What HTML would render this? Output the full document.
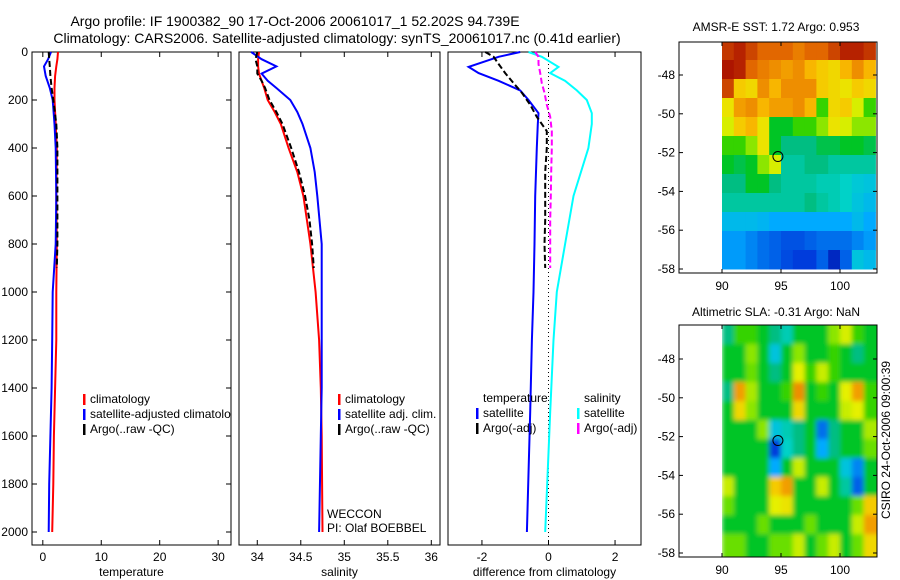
<!DOCTYPE html>
<html><head><meta charset="utf-8"><style>
body{margin:0;background:#fff;}
svg{display:block;font-family:"Liberation Sans",sans-serif;font-size:12px;}
</style></head><body>
<svg id="fig" width="900" height="580" viewBox="0 0 900 580">
<defs>
<clipPath id="clipP1"><rect x="32" y="52" width="199" height="493"/></clipPath>
<clipPath id="clipSla"><rect x="722" y="325" width="155" height="232"/></clipPath>
<filter id="blur" x="-5%" y="-5%" width="110%" height="110%"><feGaussianBlur stdDeviation="2.5"/></filter>
</defs>
<text x="295" y="26" text-anchor="middle" style="font-size:14px">Argo profile: IF 1900382_90 17-Oct-2006 20061017_1 52.202S 94.739E</text>
<text x="337" y="43" text-anchor="middle" style="font-size:14px">Climatology: CARS2006. Satellite-adjusted climatology: synTS_20061017.nc (0.41d earlier)</text>
<g id="maps"></g>
<g id="panels"></g>
<text transform="translate(890,440) rotate(-90)" text-anchor="middle">CSIRO 24-Oct-2006 09:00:39</text>
</svg>
<script>
// ---------- profile data ----------
const tDepth=[0,30,60,100,150,200,300,400,600,800,1000,1200,1400,1600,1800,2000];
const tClim=[2.6,2.5,2.3,2.1,2.0,2.0,2.2,2.4,2.3,2.4,2.3,2.3,2.1,1.9,1.8,1.6];
const tSat=[1.4,0.9,0.2,0.5,1.2,1.7,2.0,2.2,2.3,2.2,1.7,1.6,1.5,1.3,1.1,1.0];
const tArgoDepth=[0,30,60,100,150,200,300,400,500,600,700,800,900];
const tArgo=[1.0,1.1,1.2,1.3,1.5,1.8,2.3,2.5,2.5,2.5,2.5,2.5,2.4];
const sDepth=[0,30,60,90,120,150,200,250,300,400,500,600,800,1000,1200,1400,1600,2000];
const sClim=[34.02,34.01,34.01,34.02,34.05,34.08,34.12,34.2,34.27,34.36,34.46,34.53,34.61,34.67,34.71,34.73,34.74,34.75];
const sSat=[33.93,34.05,34.22,34.05,34.12,34.22,34.38,34.46,34.52,34.61,34.66,34.69,34.74,34.74,34.74,34.74,34.73,34.71];
const sArgoDepth=[0,30,60,90,120,150,200,250,300,400,500,600,700,800,900];
const sArgo=[34.0,33.98,34.0,34.0,34.05,34.09,34.14,34.22,34.29,34.39,34.48,34.55,34.6,34.63,34.65];
const dDepth=[0,20,62,88,120,160,200,255,300,400,600,800,1000,1200,1500,2000];
const dTempSat=[-0.85,-1.5,-2.4,-2.1,-1.5,-0.85,-0.6,-0.3,-0.32,-0.35,-0.4,-0.42,-0.45,-0.5,-0.55,-0.65];
const dSalSat=[-0.6,-0.2,0.3,0.05,0.5,0.85,1.15,1.3,1.3,1.2,0.75,0.5,0.25,0.15,0.05,-0.1];
const dArgoDepth=[0,20,50,88,130,170,220,270,330,400,500,600,700,800,900];
const dTempArgo=[-1.9,-1.65,-1.5,-1.3,-1.05,-0.8,-0.55,-0.35,-0.05,-0.05,-0.1,-0.1,-0.1,-0.12,-0.1];
const dSalArgo=[-0.4,-0.3,-0.3,-0.25,-0.2,-0.12,-0.05,0.05,0.1,0.1,0.08,0.07,0.05,0.05,0.05];
const depthTicks=[0,200,400,600,800,1000,1200,1400,1600,1800,2000];
const tTicks=[0,10,20,30];
const sTicks=[34,34.5,35,35.5,36];
const dTicks=[-2,0,2];
// ---------- map data (row top->bottom, col 90->103) ----------
const mapLons=[90,103];
const mapLats=[-46.25,-58];
const sstGrid=[
[0.92,0.95,0.9,0.85,0.85,0.85,0.82,0.85,0.85,0.9,0.95,0.95,0.92],
[0.97,0.95,0.85,0.82,0.8,0.78,0.8,0.75,0.72,0.7,0.75,0.8,0.75],
[0.9,0.72,0.7,0.8,0.75,0.8,0.8,0.8,0.72,0.7,0.68,0.72,0.7],
[0.68,0.78,0.8,0.75,0.78,0.78,0.8,0.75,0.55,0.7,0.72,0.65,0.55],
[0.65,0.72,0.75,0.68,0.5,0.5,0.55,0.55,0.6,0.68,0.65,0.6,0.6],
[0.55,0.55,0.6,0.68,0.5,0.45,0.45,0.45,0.48,0.48,0.5,0.5,0.48],
[0.5,0.48,0.5,0.6,0.65,0.42,0.42,0.45,0.45,0.42,0.42,0.42,0.42],
[0.45,0.45,0.5,0.5,0.45,0.42,0.42,0.42,0.4,0.4,0.38,0.36,0.35],
[0.42,0.42,0.42,0.42,0.42,0.42,0.42,0.45,0.42,0.4,0.38,0.35,0.33],
[0.33,0.33,0.33,0.32,0.3,0.3,0.3,0.3,0.3,0.3,0.3,0.33,0.3],
[0.28,0.28,0.25,0.22,0.2,0.18,0.18,0.2,0.22,0.22,0.22,0.25,0.28],
[0.28,0.28,0.25,0.22,0.2,0.17,0.15,0.15,0.2,0.1,0.2,0.35,0.33]];
const slaGrid=[
[0.45,0.55,0.55,0.5,0.45,0.4,0.5,0.5,0.5,0.6,0.65,0.55,0.5],
[0.5,0.5,0.6,0.5,0.35,0.5,0.6,0.5,0.5,0.55,0.5,0.45,0.5],
[0.5,0.5,0.58,0.5,0.45,0.5,0.66,0.55,0.64,0.55,0.5,0.5,0.5],
[0.45,0.78,0.62,0.5,0.5,0.55,0.8,0.5,0.55,0.5,0.66,0.78,0.55],
[0.5,0.7,0.6,0.5,0.5,0.5,0.7,0.5,0.5,0.5,0.64,0.66,0.55],
[0.5,0.5,0.5,0.6,0.35,0.4,0.45,0.5,0.22,0.45,0.5,0.5,0.62],
[0.5,0.5,0.5,0.5,0.15,0.38,0.45,0.5,0.3,0.45,0.5,0.5,0.58],
[0.5,0.5,0.5,0.5,0.3,0.5,0.64,0.5,0.5,0.5,0.35,0.25,0.5],
[0.64,0.5,0.5,0.5,0.72,0.78,0.5,0.5,0.64,0.5,0.42,0.2,0.5],
[0.58,0.5,0.5,0.5,0.66,0.68,0.5,0.5,0.5,0.5,0.5,0.58,0.72],
[0.5,0.5,0.5,0.58,0.5,0.5,0.5,0.58,0.5,0.5,0.5,0.64,0.78],
[0.58,0.58,0.5,0.5,0.58,0.58,0.64,0.5,0.58,0.64,0.5,0.58,0.7]];
const floatPos=[94.739,-52.202];
const latTicks=[-48,-50,-52,-54,-56,-58];
const lonTicks=[90,95,100];

const NS='http://www.w3.org/2000/svg';
function mk(tag,attrs,parent){const e=document.createElementNS(NS,tag);for(const k in attrs)e.setAttribute(k,attrs[k]);parent.appendChild(e);return e;}
const panels=document.getElementById('panels');
const maps=document.getElementById('maps');
const yD=d=>52+0.24*d;
const PT=545, PTOP=52;

function panel(x0,x1,vmin,vmax,ticks,fmt,label,name,yLabels){
  const g=mk('g',{},panels);
  
  
  const xs=v=>x0+(v-vmin)/(vmax-vmin)*(x1-x0);
  const box=mk('rect',{x:x0,y:PTOP,width:x1-x0,height:PT-PTOP,fill:'none',stroke:'#000','stroke-width':1},g);
  
  
  ticks.forEach(t=>{
    const X=xs(t);
    mk('line',{x1:X,x2:X,y1:PT,y2:PT-5,stroke:'#000'},g);
    mk('line',{x1:X,x2:X,y1:PTOP,y2:PTOP+5,stroke:'#000'},g);
    const tx=mk('text',{x:X,y:PT+16,'text-anchor':'middle'},g);
    tx.textContent=fmt(t);
    
    
  });
  const lt=mk('text',{x:(x0+x1)/2,y:PT+31,'text-anchor':'middle'},g);
  lt.textContent=label;
  
  
  if(yLabels){
    depthTicks.forEach(d=>{
      const Y=yD(d);
      mk('line',{x1:x0,x2:x0+5,y1:Y,y2:Y,stroke:'#000'},g);
      mk('line',{x1:x1,x2:x1-5,y1:Y,y2:Y,stroke:'#000'},g);
      const tx=mk('text',{x:x0-4,y:Y+4,'text-anchor':'end'},g);
      tx.textContent=d;
      
      
    });
  }
  return {g,xs};
}
function line(p,depths,vals,color,dash,name){
  const pts=depths.map((d,i)=>p.xs(vals[i]).toFixed(1)+','+yD(d).toFixed(1)).join(' ');
  const a={points:pts,fill:'none',stroke:color,'stroke-width':2};
  if(dash)a['stroke-dasharray']=dash;
  const e=mk('polyline',a,p.g);
  
  
}
function legend(g,x,y,items,name,clip){
  const lg=mk('g',clip?{'clip-path':'url(#'+clip+')'}:{},g);
  items.forEach((it,i)=>{
    const Y=y+i*15;
    if(it[0])mk('rect',{x:x,y:Y-9,width:2.5,height:11,fill:it[0]},lg);
    const t=mk('text',{x:x+7,y:Y},lg);
    t.textContent=it[1];
    
    
  });
}
// Panel 1 temperature
const p1=panel(32,231,-1.85,32.2,tTicks,String,'temperature','temperature',true);
line(p1,tDepth,tClim,'#f00',null,'temp-climatology-line');
line(p1,tDepth,tSat,'#00f',null,'temp-satellite-line');
line(p1,tArgoDepth,tArgo,'#000','6,3','temp-argo-line');
legend(p1.g,83,403,[['#f00','climatology'],['#00f','satellite-adjusted climatology'],['#000','Argo(..raw -QC)']],'temperature','clipP1');
// Panel 2 salinity
const p2=panel(239,440,33.79,36.1,sTicks,String,'salinity','salinity',false);
line(p2,sDepth,sClim,'#f00',null,'sal-climatology-line');
line(p2,sDepth,sSat,'#00f',null,'sal-satellite-line');
line(p2,sArgoDepth,sArgo,'#000','6,3','sal-argo-line');
legend(p2.g,338,403,[['#f00','climatology'],['#00f','satellite adj. clim.'],['#000','Argo(..raw -QC)']],'salinity');
const w1=mk('text',{x:327,y:518},p2.g);w1.textContent='WECCON';

const w2=mk('text',{x:327,y:532},p2.g);w2.textContent='PI: Olaf BOEBBEL';

// Panel 3 difference
const p3=panel(448,641,-3.02,2.78,dTicks,String,'difference from climatology','difference',false);
const z=mk('line',{x1:p3.xs(0),x2:p3.xs(0),y1:PTOP,y2:PT,stroke:'#000','stroke-dasharray':'1,3'},p3.g);

line(p3,dDepth,dSalSat,'#0ff',null,'diff-salinity-satellite-line');
line(p3,dDepth,dTempSat,'#00f',null,'diff-temperature-satellite-line');
line(p3,dArgoDepth,dTempArgo,'#000','6,3','diff-temperature-argo-line');
line(p3,dArgoDepth,dSalArgo,'#f0f','6,3','diff-salinity-argo-line');
legend(p3.g,476,402,[[null,'temperature'],['#00f','satellite'],['#000','Argo(-adj)']],'diff-temperature');
legend(p3.g,577,402,[[null,'salinity'],['#0ff','satellite'],['#f0f','Argo(-adj)']],'diff-salinity');

// ---------- maps ----------
const stops=[[0,[0,0,140]],[0.15,[0,60,220]],[0.3,[0,170,255]],[0.38,[0,210,200]],[0.45,[0,190,130]],[0.52,[0,200,0]],[0.6,[140,230,0]],[0.66,[230,240,0]],[0.74,[250,190,0]],[0.84,[230,110,0]],[1,[160,0,0]]];
function cmap(v){
  for(let i=1;i<stops.length;i++){if(v<=stops[i][0]){const a=stops[i-1],b=stops[i],f=(v-a[0])/(b[0]-a[0]);
    const c=a[1].map((x,k)=>Math.round(x+(b[1][k]-x)*f));return 'rgb('+c.join(',')+')';}}
  return 'rgb(160,0,0)';
}
function map(top,bottom,grid,title,name,titleY,smooth){
  const g=mk('g',{},maps);
  
  
  const L=679,R=877;
  const lonX=v=>722+(v-90)*11.8;
  const y58=bottom-4;
  const latY=v=>y58-(v+58)*19.4;
  const rows=grid.length, cols=grid[0].length;
  const dLon=(mapLons[1]-mapLons[0])/cols, dLat=(mapLats[0]-mapLats[1])/rows;
  let cg=g;
  if(smooth){const outer=mk('g',{'clip-path':'url(#clipSla)'},g);cg=mk('g',{filter:'url(#blur)'},outer);}
  for(let r=0;r<rows;r++)for(let c=0;c<cols;c++){
    let xa=lonX(mapLons[0]+c*dLon), xb=lonX(mapLons[0]+(c+1)*dLon);
    let ya=Math.max(top,latY(mapLats[0]-r*dLat)), yb=latY(mapLats[0]-(r+1)*dLat);
    if(smooth){ if(c===cols-1)xb+=10; if(r===rows-1)yb+=10; if(r===0)ya-=10; }
    const cell=mk('rect',{x:xa.toFixed(1),y:ya.toFixed(1),width:(xb-xa+0.5).toFixed(1),height:(yb-ya+0.5).toFixed(1),fill:cmap(grid[r][c])},cg);
    
    
  }
  const b=mk('rect',{x:L,y:top,width:R-L,height:bottom-top,fill:'none',stroke:'#000'},g);
  
  latTicks.forEach(v=>{const Y=latY(v);
    mk('line',{x1:L,x2:L+4,y1:Y,y2:Y,stroke:'#000'},g);mk('line',{x1:R,x2:R-4,y1:Y,y2:Y,stroke:'#000'},g);
    const t=mk('text',{x:L-4,y:Y+4,'text-anchor':'end'},g);t.textContent=v;
    });
  lonTicks.forEach(v=>{const X=lonX(v);
    mk('line',{x1:X,x2:X,y1:bottom,y2:bottom-4,stroke:'#000'},g);mk('line',{x1:X,x2:X,y1:top,y2:top+4,stroke:'#000'},g);
    const t=mk('text',{x:X,y:bottom+17,'text-anchor':'middle'},g);t.textContent=v;
    });
  const c=mk('circle',{cx:lonX(floatPos[0]),cy:latY(floatPos[1]),r:5,fill:'none',stroke:'#000'},g);
  
  const t=mk('text',{x:776,y:titleY,'text-anchor':'middle'},g);t.textContent=title;
  
}
map(42,273,sstGrid,'AMSR-E SST: 1.72 Argo: 0.953','sst',31,false);
map(325,557,slaGrid,'Altimetric SLA: -0.31 Argo: NaN','sla',316,true);
</script>
</body></html>
